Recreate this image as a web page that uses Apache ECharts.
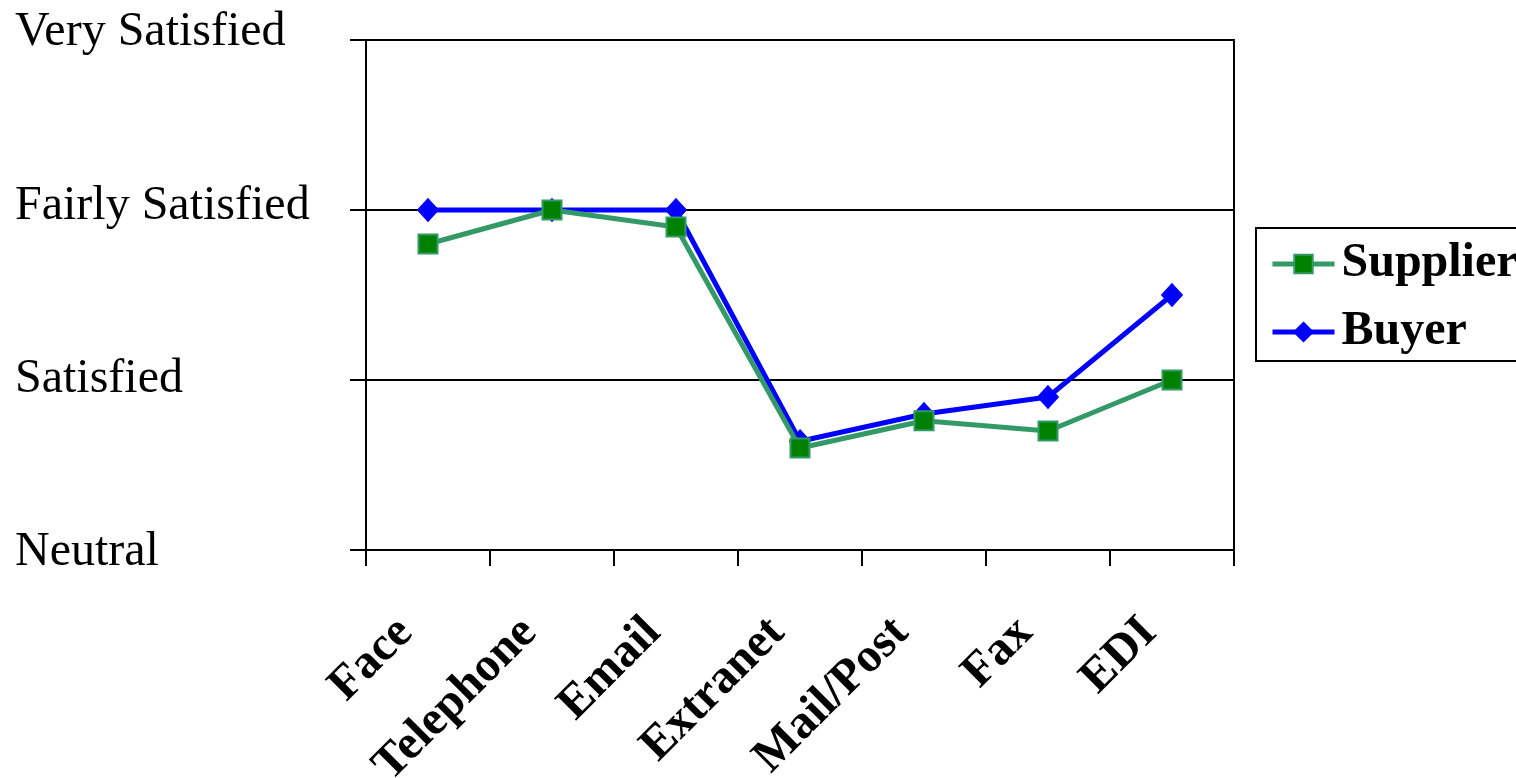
<!DOCTYPE html>
<html>
<head>
<meta charset="utf-8">
<script src="https://cdn.jsdelivr.net/npm/echarts@6/dist/echarts.min.js"></script>
<style>
  html, body { margin: 0; padding: 0; background: #fff; }
  #chart { width: 1516px; height: 778px; }
</style>
</head>
<body>
<div id="chart"></div>
<script>
// Communication channels and satisfaction ratings (0 = Neutral ... 3 = Very Satisfied)
const channels = ['Face', 'Telephone', 'Email', 'Extranet', 'Mail/Post', 'Fax', 'EDI'];
const supplier = [1.8, 2.0, 1.9, 0.6, 0.76, 0.7, 1.0];
const buyer = [2.0, 2.0, 2.0, 0.64, 0.8, 0.9, 1.5];
const levelLabels = ['Neutral', 'Satisfied', 'Fairly Satisfied', 'Very Satisfied'];

const serif = '"Liberation Serif", "Times New Roman", serif';
const chart = echarts.init(document.getElementById('chart'), null, { renderer: 'canvas' });

const yLabel = { fontFamily: serif, fontSize: 48, color: '#000' };

chart.setOption({
  backgroundColor: '#fff',
  animation: false,
  grid: {
    left: 366, top: 40, right: 282, bottom: 228,
    outerBoundsMode: 'none',
    containLabel: false,
    show: true, borderColor: '#000', borderWidth: 2, backgroundColor: 'transparent'
  },
  legend: {
    data: ['Supplier', 'Buyer'],
    orient: 'vertical',
    left: 1256, top: 228,
    padding: [12, 12, 5, 14],
    itemGap: 20,
    itemWidth: 62, itemHeight: 23,
    borderColor: '#000', borderWidth: 2,
    lineStyle: { width: 5 },
    textStyle: { fontFamily: serif, fontSize: 48, fontWeight: 'bold', color: '#000', padding: [0, 0, 0, 2] }
  },
  xAxis: {
    type: 'category',
    data: channels,
    boundaryGap: true,
    axisLine: { show: true, lineStyle: { color: '#000', width: 2 } },
    axisTick: { show: true, length: 16, alignWithLabel: false, lineStyle: { color: '#000', width: 2 } },
    axisLabel: {
      rotate: 45, margin: 53, interval: 0,
      padding: [0, 32, 0, 0],
      fontFamily: serif, fontSize: 48, fontWeight: 'bold', color: '#000'
    },
    splitLine: { show: false }
  },
  yAxis: {
    type: 'value',
    min: 0, max: 3, interval: 1,
    axisLine: { show: true, lineStyle: { color: '#000', width: 2 } },
    axisTick: { show: true, length: 16, lineStyle: { color: '#000', width: 2 } },
    splitLine: { show: true, lineStyle: { color: '#000', width: 2 } },
    axisLabel: {
      margin: 351, align: 'left',
      fontFamily: serif, fontSize: 48, color: '#000',
      formatter: v => '{l' + v + '|' + levelLabels[v] + '}',
      rich: {
        l0: Object.assign({ padding: [4, 0, 0, 0] }, yLabel),
        l1: Object.assign({ padding: [0, 0, 2, 0] }, yLabel),
        l2: Object.assign({ padding: [0, 0, 8, 0] }, yLabel),
        l3: Object.assign({ padding: [0, 0, 16, 0] }, yLabel)
      }
    }
  },
  series: [
    {
      name: 'Buyer', type: 'line', data: buyer,
      symbol: 'diamond', symbolSize: [21, 23],
      lineStyle: { color: '#0000ff', width: 5 },
      itemStyle: { color: '#0000ff', borderColor: '#0000ff', borderWidth: 1 },
      z: 2
    },
    {
      name: 'Supplier', type: 'line', data: supplier,
      symbol: 'rect', symbolSize: 19,
      lineStyle: { color: '#339966', width: 5 },
      itemStyle: { color: '#008000', borderColor: '#339966', borderWidth: 2 },
      z: 3
    }
  ]
});
</script>
</body>
</html>
